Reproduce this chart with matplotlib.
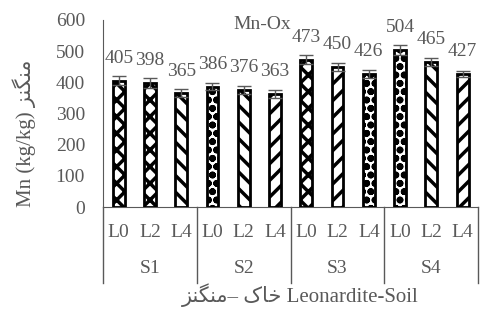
import matplotlib.pyplot as plt
import numpy as np

plt.rcParams['font.family'] = ['Liberation Serif', 'DejaVu Sans']
plt.rcParams['hatch.linewidth'] = 2.5

soils = ['S1', 'S2', 'S3', 'S4']
levels = ['L0', 'L2', 'L4']
mn = [405, 398, 365, 386, 376, 363, 473, 450, 426, 504, 465, 427]
err = [15, 15, 13, 12, 12, 12, 15, 13, 12, 15, 12, 10]

# Persian words in shaped presentation forms (visual order)
fa_mn = '\uFEB0\uFEE8\uFB95\uFEE8\uFEE3'
fa_soil = '\uFB8E\uFE8E\uFEA7'

# hatch per bar
hatches = ['XX', 'XX', '\\\\', 'oo', '\\\\', '//',
           'XX', '//', 'oo', 'oo', '\\\\', '//']

grey = '#595959'
fig = plt.figure(figsize=(4.84, 3.22), dpi=100)
ax = fig.add_axes([0.213, 0.357, 0.775, 0.581])

x = np.arange(len(mn))
for i in range(len(mn)):
    ax.bar(x[i], mn[i], width=0.38, color='white', edgecolor='black', hatch=hatches[i],
           linewidth=0, zorder=2)
    ax.bar(x[i], mn[i], width=0.38, fill=False, edgecolor='black', linewidth=2, zorder=3)
ax.errorbar(x, mn, yerr=err, fmt='none', ecolor=grey, elinewidth=1, capsize=5, capthick=1, zorder=4)

for i, v in enumerate(mn):
    ax.annotate(str(v), (x[i], v), xytext=(0, 16), textcoords='offset points',
                ha='center', va='center', fontsize=14, color=grey)

ax.set_xlim(-0.5, len(mn) - 0.5)
ax.set_ylim(0, 600)
ax.set_yticks(range(0, 601, 100))
ax.tick_params(axis='y', length=0, labelsize=14, labelcolor=grey, pad=13)
ax.set_xticks([])
for s in ['top', 'right']:
    ax.spines[s].set_visible(False)
ax.spines['left'].set_color(grey)
ax.spines['bottom'].set_color(grey)

ax.text(4.6, 584, 'Mn-Ox', ha='center', va='center', fontsize=14, color=grey)

# two-level category axis
for i in range(len(mn)):
    ax.text(x[i], -0.134, levels[i % 3], transform=ax.get_xaxis_transform(),
            ha='center', va='center', fontsize=14, color=grey)
for g, s in enumerate(soils):
    ax.text(3 * g + 1, -0.326, s, transform=ax.get_xaxis_transform(),
            ha='center', va='center', fontsize=14, color=grey)
for b in np.arange(-0.5, len(mn), 3):
    ax.plot([b, b], [0, -0.406], transform=ax.get_xaxis_transform(),
            color=grey, linewidth=1, clip_on=False)

fig.text(0.05, 0.585, 'Mn (kg/kg) ' + fa_mn, rotation=90, ha='center', va='center',
         fontsize=15, color=grey)
fig.text(0.62, 0.084, fa_mn + '\u2013 ' + fa_soil + ' Leonardite-Soil',
         ha='center', va='center', fontsize=15, color=grey)

fig.savefig('out.png', dpi=100)
